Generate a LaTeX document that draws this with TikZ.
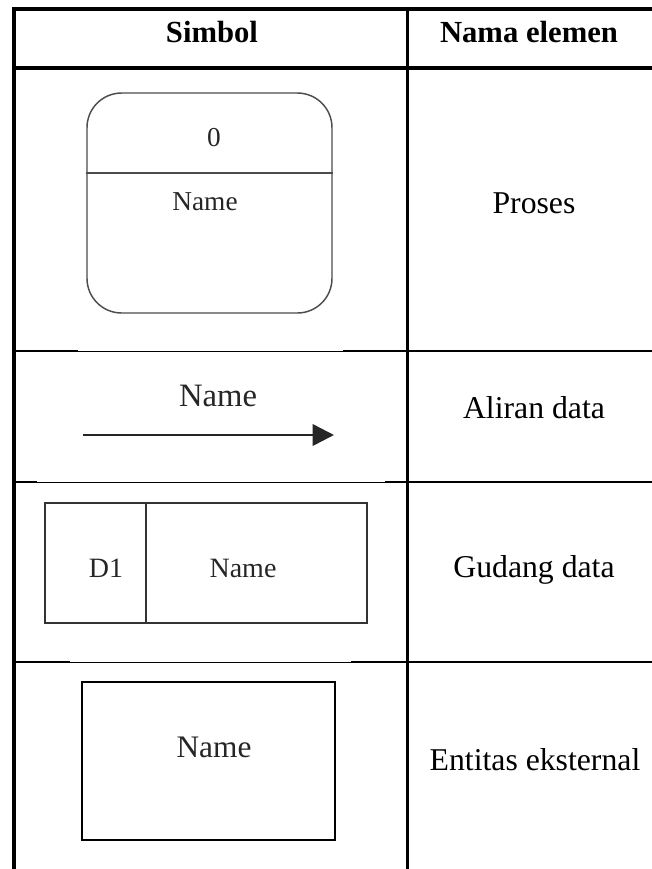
\documentclass[tikz,border=0pt]{standalone}
\usepackage{fontspec}
\setmainfont{Liberation Serif}
\usetikzlibrary{arrows.meta, positioning, calc}

\begin{document}
\begin{tikzpicture}[
		x=0.75pt, y=-0.75pt,
		outer/.style={line width=3pt, line cap=rect},
		divider/.style={line width=2.25pt},
		rowrule/.style={line width=1.5pt},
		rowthin/.style={line width=0.75pt},
		head/.style={anchor=base, inner sep=0pt, font=\bfseries\fontsize{23}{27}\selectfont},
		elname/.style={anchor=base, inner sep=0pt, font=\fontsize{23.8}{28}\selectfont},
		sym/.style={anchor=base, inner sep=0pt, text=black!85},
		procbox/.style={draw=black!70, line width=1.1pt, rounded corners=26pt, minimum width=183.75pt, minimum height=165pt, inner sep=0pt},
		storebox/.style={draw=black!80, line width=1.1pt, minimum width=241.5pt, minimum height=90pt, inner sep=0pt},
		entbox/.style={draw=black, line width=1.8pt, minimum width=189.75pt, minimum height=118.5pt, inner sep=0pt},
		flow/.style={-{Triangle[length=16pt, width=16pt]}, line width=1.9pt, black!85}
		]
		\useasboundingbox (0,0) rectangle (652,869);
		
		% table rules
		\draw[outer] (652,9) -- (14,9) -- (14,869);
		\draw[divider] (407,9) -- (407,869);
		\draw[outer] (14,67.5) -- (652,67.5);
		\foreach \y/\a/\b in {351/78/343, 482/37/385, 662/70/351}{
			\draw[rowrule] (14,\y) -- (\a,\y);
			\draw[rowthin] (\a,\y) -- (\b,\y);
			\draw[rowrule] (\b,\y) -- (652,\y);
		}
		
		% header
		\node[head] (symhead) at (212,42) {Simbol};
		\node[head] (namehead) at (529,42) {Nama elemen};
		
		% proses
		\node[procbox] (proc) at (209.5,203) {};
		\coordinate (procsplit) at (0,173);
		\draw[draw=black!70, line width=1.1pt] (proc.west |- procsplit) -- (proc.east |- procsplit);
		\node[sym, font=\fontsize{20.5}{24}\selectfont] (procid) at (214,146.5) {0};
		\node[sym, font=\fontsize{20.5}{24}\selectfont] (procname) at (205,210) {Name};
		\node[elname] (procel) at (534,213) {Proses};
		
		% aliran data
		\coordinate (flowstart) at (83,435);
		\coordinate (flowend) at (334,435);
		\draw[flow] (flowstart) -- (flowend);
		\node[sym, font=\fontsize{24.5}{28}\selectfont] (flowname) at (218,406) {Name};
		\node[elname] (flowel) at (534,418) {Aliran data};
		
		% gudang data
		\node[storebox] (store) at (206,563) {};
		\coordinate (storesplit) at (146,0);
		\draw[draw=black!80, line width=1.1pt] (store.north -| storesplit) -- (store.south -| storesplit);
		\node[sym, font=\fontsize{21}{25}\selectfont] (storeid) at (106,577) {D1};
		\node[sym, font=\fontsize{21}{25}\selectfont] (storename) at (243,577) {Name};
		\node[elname] (storeel) at (534,577) {Gudang data};
		
		% entitas eksternal
		\node[entbox] (ent) at (208.5,761) {};
		\node[sym, font=\fontsize{23.5}{28}\selectfont] (entname) at (214,757) {Name};
		\node[elname] (entel) at (535,770) {Entitas eksternal};
		
	\end{tikzpicture}
\end{document}
